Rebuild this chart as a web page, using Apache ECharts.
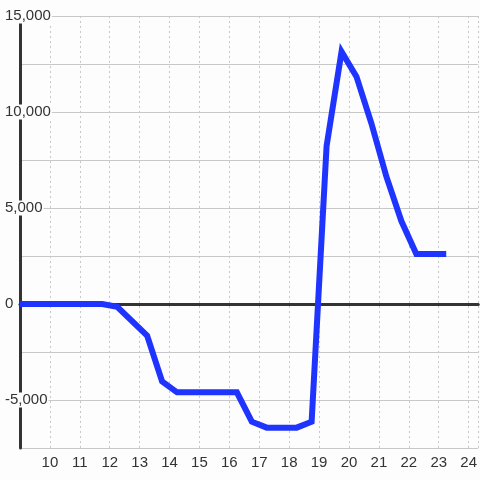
<!DOCTYPE html>
<html>
<head>
<meta charset="utf-8">
<script src="https://cdn.jsdelivr.net/npm/echarts@6/dist/echarts.min.js"></script>
<style>
  html, body { margin: 0; padding: 0; background: #fcfdfc; }
  #chart { width: 480px; height: 480px; }
</style>
</head>
<body>
<div id="chart"></div>
<script>
const hours = [9, 11.75, 12.25, 13.25, 13.75, 14.25, 16.25, 16.75, 17.25, 18.25, 18.75, 19.25, 19.75, 20.25, 20.75, 21.25, 21.75, 22.25, 23.25];
const values = [0, 0, -150, -1650, -4030, -4600, -4600, -6130, -6440, -6440, -6130, 8230, 13140, 11840, 9400, 6630, 4320, 2600, 2600];
const xTicks = { min: 9, max: 24.32, step: 1 };
const yTicks = { min: -7500, max: 15000, step: 2500, labelStep: 5000 };

const font = "'Liberation Sans', Arial, sans-serif";
const bg = '#fcfdfc';

const chart = echarts.init(document.getElementById('chart'));
chart.setOption({
  animation: false,
  backgroundColor: bg,
  grid: { left: 20, right: 0, top: 16, bottom: 32 },
  xAxis: [
    {
      type: 'value',
      min: xTicks.min,
      max: xTicks.max,
      interval: xTicks.step,
      axisLine: { show: false },
      axisTick: { show: false },
      axisLabel: {
        showMinLabel: false,
        showMaxLabel: false,
        margin: 7,
        fontSize: 15,
        fontFamily: font,
        color: '#333'
      },
      splitLine: { show: true, lineStyle: { color: '#c8c8c8', type: [2, 3], width: 1 } }
    },
    {
      type: 'value',
      position: 'top',
      min: xTicks.min,
      max: xTicks.max,
      interval: xTicks.step,
      axisLine: { show: true, onZero: true, onZeroAxisIndex: 0, lineStyle: { color: '#333', width: 3 } },
      axisTick: { show: false },
      axisLabel: { show: false },
      splitLine: { show: false }
    }
  ],
  yAxis: {
    type: 'value',
    min: yTicks.min,
    max: yTicks.max,
    interval: yTicks.step,
    axisLine: { show: true, lineStyle: { color: '#333', width: 3 } },
    axisTick: { show: false },
    axisLabel: {
      align: 'left',
      margin: 15,
      formatter: function (v) {
        if (v % yTicks.labelStep !== 0 || v === yTicks.min) return '';
        return '{b|' + v.toLocaleString('en-US') + '}';
      },
      rich: {
        b: {
          fontSize: 15,
          fontFamily: font,
          color: '#333',
          backgroundColor: bg,
          lineHeight: 13,
          padding: [0, 1, 0, 0]
        }
      }
    },
    splitLine: { show: true, lineStyle: { color: '#c8c8c8', width: 1 } }
  },
  series: [
    {
      type: 'line',
      data: hours.map((h, i) => [h, values[i]]),
      showSymbol: false,
      lineStyle: { color: '#1f35ff', width: 6, join: 'miter' },
      z: 3
    }
  ]
});
</script>
</body>
</html>
